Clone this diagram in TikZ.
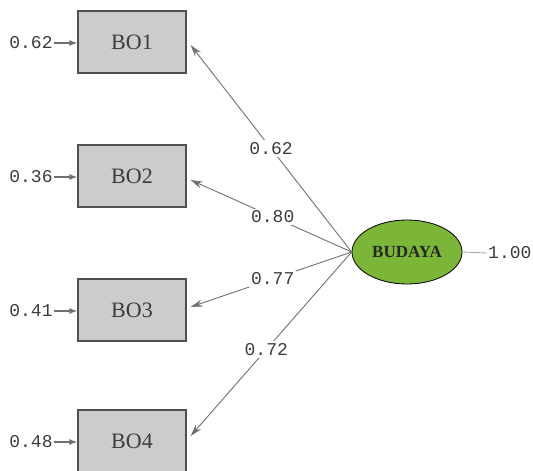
\documentclass[tikz,border=0pt]{standalone}
\usepackage{fontspec}
\setmainfont{Liberation Serif}
\newfontfamily\monof{Liberation Mono}
\usetikzlibrary{arrows.meta,shapes.geometric}
\definecolor{boxfill}{RGB}{204,204,204}
\definecolor{boxedge}{RGB}{80,80,80}
\definecolor{arrgray}{RGB}{112,112,112}
\definecolor{txtgray}{RGB}{60,60,60}
\definecolor{latgreen}{RGB}{124,182,56}
\tikzset{
  obs/.style={rectangle, draw=boxedge, fill=boxfill, line width=1.2pt,
    minimum width=108pt, minimum height=62pt, text=txtgray,
    font=\fontsize{22}{22}\selectfont},
  lat/.style={ellipse, draw=black, fill=latgreen, line width=0.8pt,
    minimum width=110pt, minimum height=64pt, inner sep=0pt,
    font=\fontsize{17}{17}\selectfont\bfseries, text=black!85},
  numtxt/.style={inner sep=1pt, text=txtgray, font=\monof\fontsize{18}{18}\selectfont},
  lab/.style={numtxt, fill=white, inner sep=2pt},
  load/.style={draw=arrgray, line width=0.9pt, -{Stealth[length=12pt,width=7pt]}},
  errarr/.style={draw=arrgray, line width=1.3pt, -{Latex[length=8pt,width=6pt]}},
  varline/.style={draw=arrgray!60, line width=0.9pt}
}
\begin{document}
\begin{tikzpicture}[x=1pt,y=-1pt]
\useasboundingbox (0,0) rectangle (533,471);
\node[obs] (bo1) at (132,42) {BO1};
\node[obs] (bo2) at (132,176) {BO2};
\node[obs] (bo3) at (132,310) {BO3};
\node[obs] (bo4) at (132,441) {BO4};
\node[lat] (bud) at (407,252) {BUDAYA};
\node[numtxt] (e1) at (31,43) {0.62};
\node[numtxt] (e2) at (31,177) {0.36};
\node[numtxt] (e3) at (31,311) {0.41};
\node[numtxt] (e4) at (31,442) {0.48};
\node[numtxt, anchor=west] (v) at (487,253) {1.00};
\draw[errarr] (e1.east) -- (bo1.west|-e1.east);
\draw[errarr] (e2.east) -- (bo2.west|-e2.east);
\draw[errarr] (e3.east) -- (bo3.west|-e3.east);
\draw[errarr] (e4.east) -- (bo4.west|-e4.east);
\draw[varline] (bud.east) -- (v.west);
\draw[load] (bud.west) -- node[lab, pos=0.5] {0.62} ([xshift=4pt,yshift=-3pt]bo1.east);
\draw[load] (bud.west) -- node[lab, pos=0.49] {0.80} ([xshift=4pt,yshift=-4pt]bo2.east);
\draw[load] (bud.west) -- node[lab, pos=0.49] {0.77} ([xshift=4pt,yshift=3pt]bo3.east);
\draw[load] (bud.west) -- node[lab, pos=0.53] {0.72} ([xshift=4pt,yshift=5pt]bo4.east);
\end{tikzpicture}
\end{document}
